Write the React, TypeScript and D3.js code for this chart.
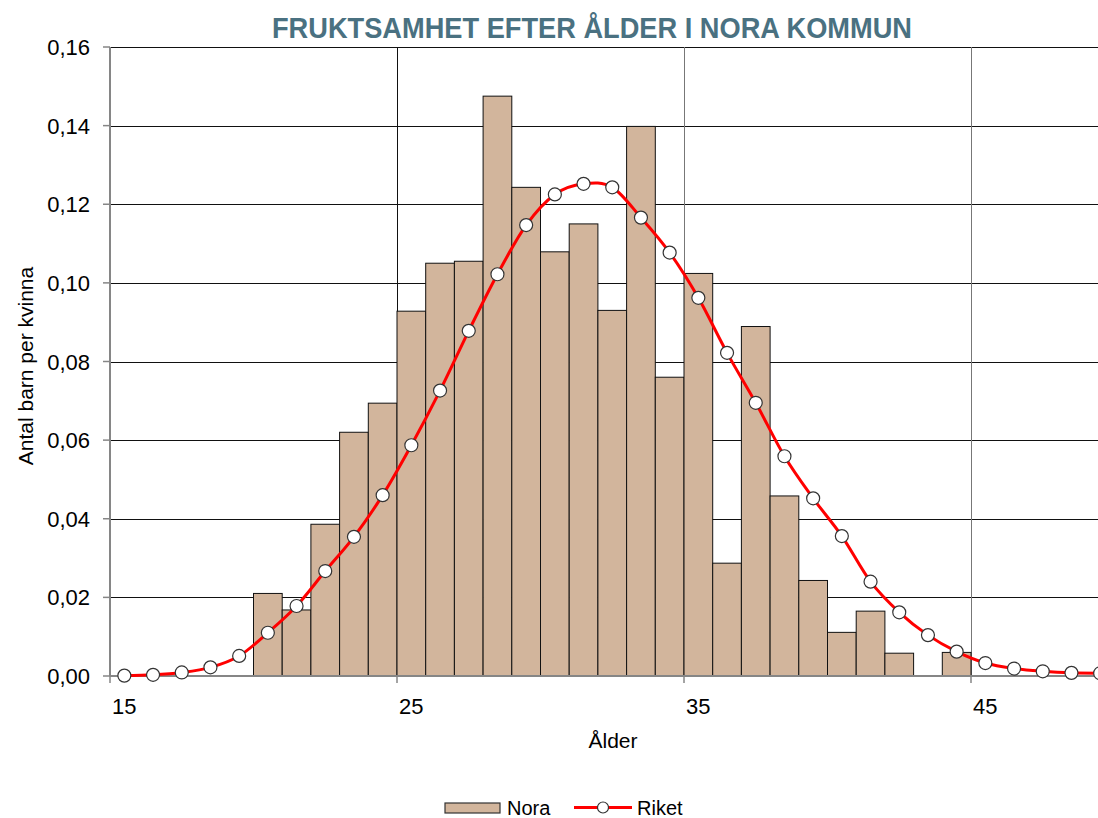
import React from 'react';
import * as d3 from 'd3';

const ages = [15, 16, 17, 18, 19, 20, 21, 22, 23, 24, 25, 26, 27, 28, 29, 30, 31, 32, 33, 34, 35, 36, 37, 38, 39, 40, 41, 42, 43, 44, 45, 46, 47, 48, 49];
const nora = [0, 0, 0, 0, 0, 0.0210, 0.0168, 0.0386, 0.0620, 0.0694, 0.0928, 0.1050, 0.1055, 0.1475, 0.1243, 0.1079, 0.1150, 0.0930, 0.1398, 0.0760, 0.1024, 0.0287, 0.0889, 0.0458, 0.0243, 0.0111, 0.0165, 0.0058, 0, 0.0060, 0, 0, 0, 0, 0];
const riket = [0.0001, 0.0003, 0.0009, 0.0022, 0.0051, 0.0110, 0.0178, 0.0267, 0.0354, 0.0460, 0.0587, 0.0726, 0.0878, 0.1022, 0.1147, 0.1225, 0.1252, 0.1243, 0.1166, 0.1077, 0.0962, 0.0822, 0.0695, 0.0559, 0.0452, 0.0356, 0.0240, 0.0162, 0.0104, 0.0062, 0.0033, 0.0019, 0.0012, 0.0008, 0.0007];
const yTicks = [0, 0.02, 0.04, 0.06, 0.08, 0.1, 0.12, 0.14, 0.16];
const xTickLabels = [15, 25, 35, 45];
const gridAges = [25, 35, 45];

const W = 1098;
const H = 818;
const left = 110;
const top = 47;
const bottom = 676;
const catW = 28.7;
const right = left + ages.length * catW;

const TITLE_FONT = '"Liberation Sans Narrow", "Liberation Sans", Arial, sans-serif';
const FONT = '"Liberation Sans", Arial, sans-serif';

export default function App() {
  const x = d3.scaleBand<number>().domain(ages).range([left, right]).paddingInner(0).paddingOuter(0);
  const y = d3.scaleLinear().domain([0, 0.16]).range([bottom, top]);
  const fmt = (v: number) => d3.format('.2f')(v).replace('.', ',');
  const cx = (a: number) => (x(a) as number) + x.bandwidth() / 2;

  const line = d3
    .line<number>()
    .x((_, i) => cx(ages[i]))
    .y((d) => y(d))
    .curve(d3.curveCardinal.tension(0));

  return (
    <svg width={W} height={H} style={{ position: 'absolute', left: 0, top: 0, background: '#fff' }}>
      <defs>
        <clipPath id="clip">
          <rect x={0} y={0} width={W} height={H} />
        </clipPath>
      </defs>
      <text x={592} y={38} textAnchor="middle" fontFamily={TITLE_FONT} fontWeight="bold" fontSize={29} fill="#4a7181" textLength={640} lengthAdjust="spacingAndGlyphs">
        FRUKTSAMHET EFTER ÅLDER I NORA KOMMUN
      </text>

      {/* horizontal gridlines */}
      {yTicks.filter((t) => t > 0).map((t) => (
        <line key={'h' + t} x1={left} x2={right} y1={Math.round(y(t)) + 0.5} y2={Math.round(y(t)) + 0.5} stroke="#111" strokeWidth={1} />
      ))}
      {/* vertical gridlines */}
      {gridAges.map((a, i) => (
        <line key={'v' + a} x1={Math.round(x(a) as number) + 0.5} x2={Math.round(x(a) as number) + 0.5} y1={top} y2={bottom} stroke={i === 0 ? '#111' : '#777'} strokeWidth={1} />
      ))}

      {/* bars */}
      {ages.map((a, i) =>
        nora[i] > 0 ? (
          <rect
            key={'b' + a}
            x={x(a) as number}
            y={y(nora[i])}
            width={x.bandwidth()}
            height={bottom - y(nora[i])}
            fill="#d2b59c"
            stroke="#111"
            strokeWidth={1}
          />
        ) : null
      )}

      {/* axes */}
      <line x1={left} x2={left} y1={top} y2={bottom} stroke="#868686" strokeWidth={2} />
      <line x1={left} x2={right} y1={bottom} y2={bottom} stroke="#868686" strokeWidth={2} />
      {yTicks.map((t) => (
        <g key={'yt' + t}>
          <line x1={left - 7} x2={left} y1={y(t)} y2={y(t)} stroke="#868686" strokeWidth={1.5} />
          <text x={90} y={y(t) + 8} textAnchor="end" fontFamily={FONT} fontSize={22} fill="#000">
            {fmt(t)}
          </text>
        </g>
      ))}
      {[15, ...gridAges].map((a) => (
        <line key={'xt' + a} x1={x(a) as number} x2={x(a) as number} y1={bottom} y2={bottom + 7} stroke="#868686" strokeWidth={1.5} />
      ))}
      {xTickLabels.map((a) => (
        <text key={'xl' + a} x={cx(a)} y={714} textAnchor="middle" fontFamily={FONT} fontSize={22} fill="#000">
          {a}
        </text>
      ))}
      <text x={613} y={748} textAnchor="middle" fontFamily={FONT} fontSize={21} fill="#000">
        Ålder
      </text>
      <text transform={`translate(33,366) rotate(-90)`} textAnchor="middle" fontFamily={FONT} fontSize={21} fill="#000">
        Antal barn per kvinna
      </text>

      {/* Riket line */}
      <g clipPath="url(#clip)">
        <path d={line(riket) || ''} fill="none" stroke="#ff0000" strokeWidth={3} />
        {ages.map((a, i) => (
          <circle key={'c' + a} cx={cx(a)} cy={y(riket[i])} r={6.5} fill="#fff" stroke="#333" strokeWidth={1.2} />
        ))}
      </g>

      {/* legend */}
      <rect x={445} y={803} width={55} height={10} fill="#d2b59c" stroke="#333" strokeWidth={1.2} />
      <text x={507} y={815} fontFamily={FONT} fontSize={20} fill="#000">Nora</text>
      <line x1={574} x2={632} y1={807.5} y2={807.5} stroke="#ff0000" strokeWidth={3} />
      <circle cx={603} cy={807.5} r={5.5} fill="#fff" stroke="#333" strokeWidth={1.2} />
      <text x={637} y={815} fontFamily={FONT} fontSize={20} fill="#000">Riket</text>
    </svg>
  );
}
